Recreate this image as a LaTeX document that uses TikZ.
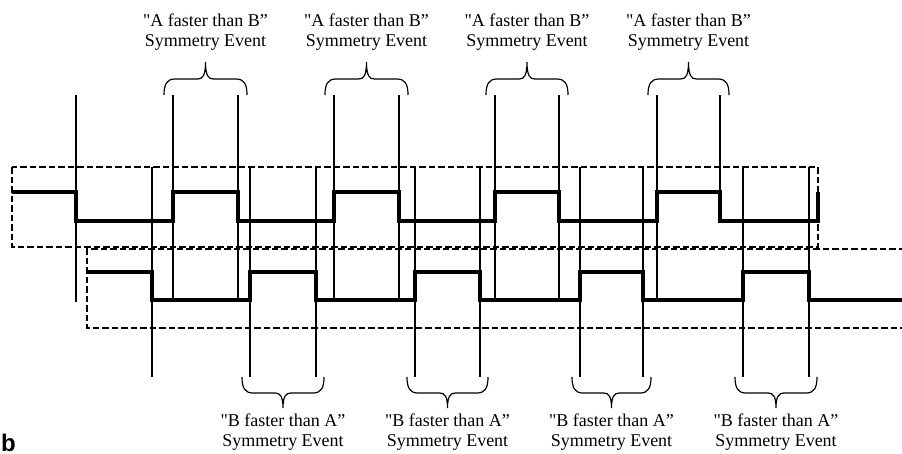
\documentclass[tikz,border=0pt]{standalone}
\usepackage{fontspec}
\setmainfont{Liberation Serif}
\newfontfamily\serifl{Liberation Serif}
\newfontfamily\labelsans{Liberation Sans}
\begin{document}
\begin{tikzpicture}[x=1pt,y=-1pt,
  wave/.style={line width=3.5pt, line join=miter},
  thinline/.style={line width=1.3pt},
  boxline/.style={line width=1.9pt, dash pattern=on 6.5pt off 3pt},
  brc/.style={line width=1.2pt},
  lab/.style={font=\serifl\fontsize{18}{20}\selectfont, align=center, inner sep=0pt}]
\useasboundingbox (0,0) rectangle (902,453);

% dashed boxes
\draw[boxline] (12,167) rectangle (818,247);
\draw[boxline] (905,249) -- (87,249) -- (87,328) -- (905,328);

% vertical marker lines
\foreach \x in {76,173,238,334,399,495,559,657} \draw[thinline] (\x,95) -- (\x,302);
\draw[line width=2.4pt] (720,95) -- (720,221);
\foreach \x in {152,250,316,415,480,580,643,743,809} \draw[thinline] (\x,167) -- (\x,377);

% waveforms
\draw[wave] (12,192) -- (76,192) -- (76,221) -- (173,221) -- (173,192) -- (238,192) -- (238,221)
  -- (334,221) -- (334,192) -- (399,192) -- (399,221) -- (495,221) -- (495,192) -- (559,192)
  -- (559,221) -- (657,221) -- (657,192) -- (720,192) -- (720,221) -- (818,221) -- (818,192);
\draw[wave] (87,272) -- (152,272) -- (152,300) -- (250,300) -- (250,272) -- (316,272) -- (316,300)
  -- (415,300) -- (415,272) -- (480,272) -- (480,300) -- (580,300) -- (580,272) -- (643,272)
  -- (643,300) -- (743,300) -- (743,272) -- (809,272) -- (809,300) -- (905,300);

% top braces and labels
\foreach \a/\b [count=\i] in {173/238,334/399,495/559,657/720} {
  \pgfmathsetmacro\c{(\a+\b)/2}
  \draw[brc] (\a-9,95) .. controls (\a-9,84) and (\a-6,79) .. (\a+2,79) -- (\c-8,79)
    .. controls (\c-3,79) and (\c,76) .. (\c,62) .. controls (\c,76) and (\c+3,79) .. (\c+8,79)
    -- (\b-2,79) .. controls (\b+6,79) and (\b+9,84) .. (\b+9,95);
  \node[lab] (ta\i) at (\c,32) {"A faster than B”\\Symmetry Event};
}

% bottom braces and labels
\foreach \a/\b [count=\i] in {250/316,415/480,580/643,743/809} {
  \pgfmathsetmacro\c{(\a+\b)/2}
  \draw[brc] (\a-8,377) .. controls (\a-8,388) and (\a-5,393) .. (\a+3,393) -- (\c-8,393)
    .. controls (\c-3,393) and (\c,396) .. (\c,408) .. controls (\c,396) and (\c+3,393) .. (\c+8,393)
    -- (\b-3,393) .. controls (\b+5,393) and (\b+8,388) .. (\b+8,377);
  \node[lab] (tb\i) at (\c,432) {"B faster than A”\\Symmetry Event};
}

\node[anchor=base west, inner sep=0pt, font=\labelsans\bfseries\fontsize{24}{26}\selectfont] (blabel) at (1,451) {b};
\end{tikzpicture}
\end{document}
